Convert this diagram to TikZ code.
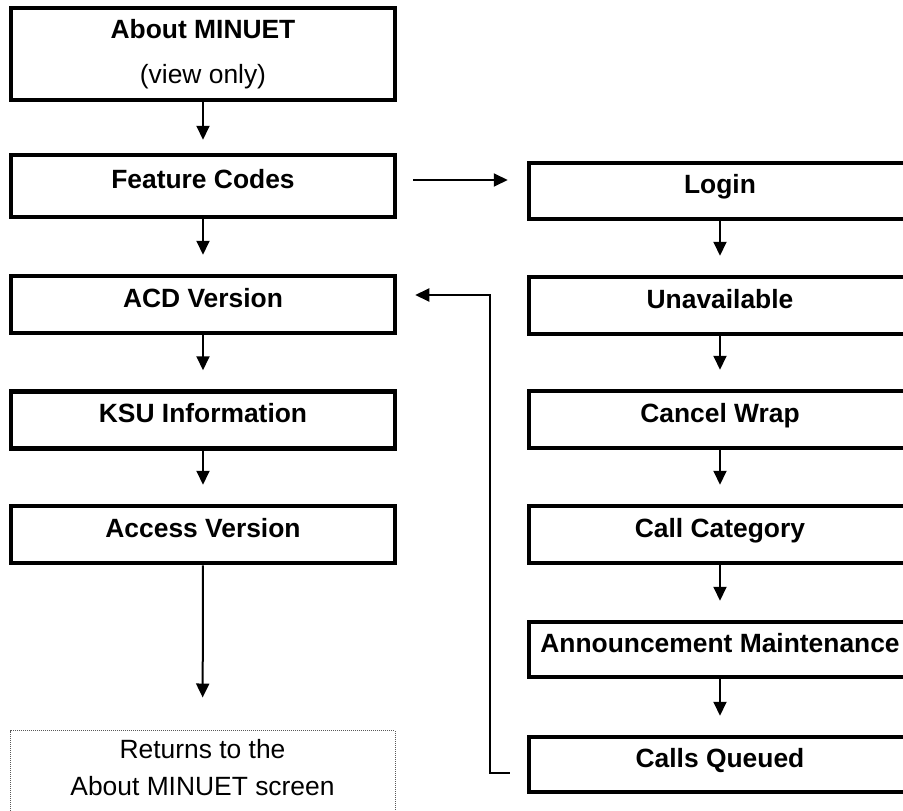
\documentclass[tikz,border=0pt]{standalone}
\usepackage{fontspec}
\setmainfont{Liberation Sans}
\usetikzlibrary{arrows.meta}

\begin{document}
\begin{tikzpicture}[x=1pt,y=-1pt,>={Triangle[length=14pt,width=13pt]},
  box/.style={draw,line width=4.5pt,minimum width=384pt,minimum height=57pt,inner sep=0pt,
    font=\fontsize{26.4}{32}\selectfont\bfseries},
  scr/.style={box,text height=19pt,text depth=14pt},
  arr/.style={->,line width=2pt,shorten >=19pt}]

%the page
    \useasboundingbox (0,0) rectangle (903,811);
    \clip (0,0) rectangle (903,811);
    \def\xl{203};
    \def\xr{720};

%left column
    \node[box,minimum height=92pt,align=center,font=\fontsize{26.4}{45}\selectfont\bfseries] (about) at (\xl,54) {About MINUET\\{\mdseries (view only)}};
    \node[scr,minimum height=62pt] (feat) at (\xl,186) {Feature Codes};
    \node[scr] (acd) at (\xl,304.5) {ACD Version};
    \node[scr] (ksu) at (\xl,420) {KSU Information};
    \node[scr] (access) at (\xl,534.5) {Access Version};
    \node[draw=gray!70!black,densely dotted,line width=1pt,minimum width=385pt,inner xsep=0pt,inner ysep=9pt,
      anchor=north,align=center,font=\fontsize{26.4}{37}\selectfont] (back) at (\xl-0.5,730)
      {Returns to the\\About MINUET screen\rule[-40pt]{0pt}{0pt}};

%right column
    \node[scr,minimum width=382pt,minimum height=56pt] (login) at (\xr,191) {Login};
    \node[scr,minimum width=382pt] (unav) at (\xr,305.5) {Unavailable};
    \node[scr,minimum width=382pt] (cancel) at (\xr,419.5) {Cancel Wrap};
    \node[scr,minimum width=382pt] (callcat) at (\xr,534.5) {Call Category};
    \node[scr,minimum width=382pt,minimum height=55pt] (announce) at (\xr,649.5) {Announcement Maintenance};
    \node[scr,minimum width=382pt,minimum height=55pt] (queued) at (\xr,764.5) {Calls Queued};

%the arrows
    \draw[arr,shorten >=13pt] (about) -- (feat);
    \foreach \a/\b in {feat/acd,acd/ksu,ksu/access,login/unav,unav/cancel,cancel/callcat,callcat/announce,announce/queued}
      \draw[arr] (\a) -- (\b);
    \draw[arr,shorten >=32.5pt] (access) -- (back);
    \draw[arr,shorten <=16pt] ([yshift=6pt]feat.east) -- ([yshift=6pt]feat.east -| login.west);
    \draw[arr,shorten >=0pt] ([xshift=-17pt,yshift=-8.5pt]queued.west) -- ++(-20,0) |- ([xshift=18pt,yshift=9.5pt]acd.east);
\end{tikzpicture}
\end{document}
